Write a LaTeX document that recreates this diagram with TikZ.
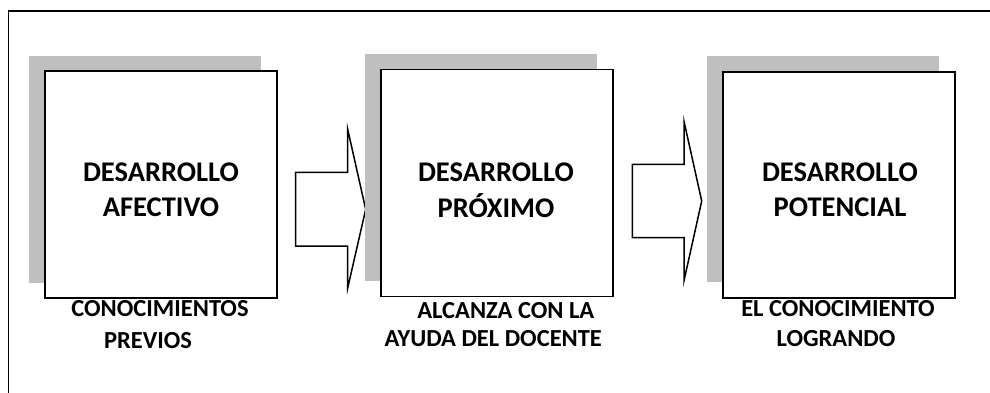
\documentclass[tikz,border=0pt]{standalone}
\usepackage{fontspec}
\setmainfont{Carlito}
\definecolor{shadowgray}{RGB}{191,191,191}
\begin{document}
\begin{tikzpicture}[x=1pt,y=-1pt,
  shadowbox/.style={fill=shadowgray,draw=none},
  mainbox/.style={draw=black,line width=1.8pt,fill=white},
  bigtext/.style={font=\bfseries\fontsize{28.5}{34}\selectfont,anchor=base,inner sep=0pt},
  smalltext/.style={font=\bfseries\fontsize{24.5}{30}\selectfont,anchor=base,inner sep=0pt},
  blockarrow/.style={draw=black,line width=1.5pt,fill=white,line join=miter}]
\useasboundingbox (0,0) rectangle (990,393);
% frame
\draw[line width=1.7pt] (8.5,393) -- (8.5,11) -- (990,11);
% box 1
\fill[shadowbox] (29,56) rectangle (261,283);
\draw[mainbox] (45,71) rectangle (277,298);
\node[bigtext] (t1a) at (161,181) {DESARROLLO};
\node[bigtext] (t1b) at (161,216) {AFECTIVO};
\node[smalltext] (l1a) at (160,316) {CONOCIMIENTOS};
\node[smalltext] (l1b) at (148,348) {PREVIOS};
% arrow 1
\draw[blockarrow] (295.7,172.3) -- (347.7,172.3) -- (347.7,129.3) -- (365.7,209.3) -- (347.7,288) -- (347.7,246) -- (295.7,246) -- cycle;
% box 2
\fill[shadowbox] (365,54.5) rectangle (596.7,280.5);
\draw[mainbox] (380.7,69.5) rectangle (612.7,296.5);
\node[bigtext] (t2a) at (496,181) {DESARROLLO};
\node[bigtext] (t2b) at (496,217) {PRÓXIMO};
\node[smalltext] (l2a) at (505.8,318) {ALCANZA CON LA};
\node[smalltext] (l2b) at (493.3,346) {AYUDA DEL DOCENTE};
% arrow 2
\draw[blockarrow] (632.3,164.3) -- (684,164.3) -- (684,121.3) -- (701.7,201) -- (684,280.7) -- (684,237.7) -- (632.3,237.7) -- cycle;
% box 3
\fill[shadowbox] (707.3,56) rectangle (938.7,282.3);
\draw[mainbox] (723.3,71.7) rectangle (955.3,298.3);
\node[bigtext] (t3a) at (840,181) {DESARROLLO};
\node[bigtext] (t3b) at (840,216) {POTENCIAL};
\node[smalltext] (l3a) at (838,316) {EL CONOCIMIENTO};
\node[smalltext] (l3b) at (836,346) {LOGRANDO};
\end{tikzpicture}
\end{document}
